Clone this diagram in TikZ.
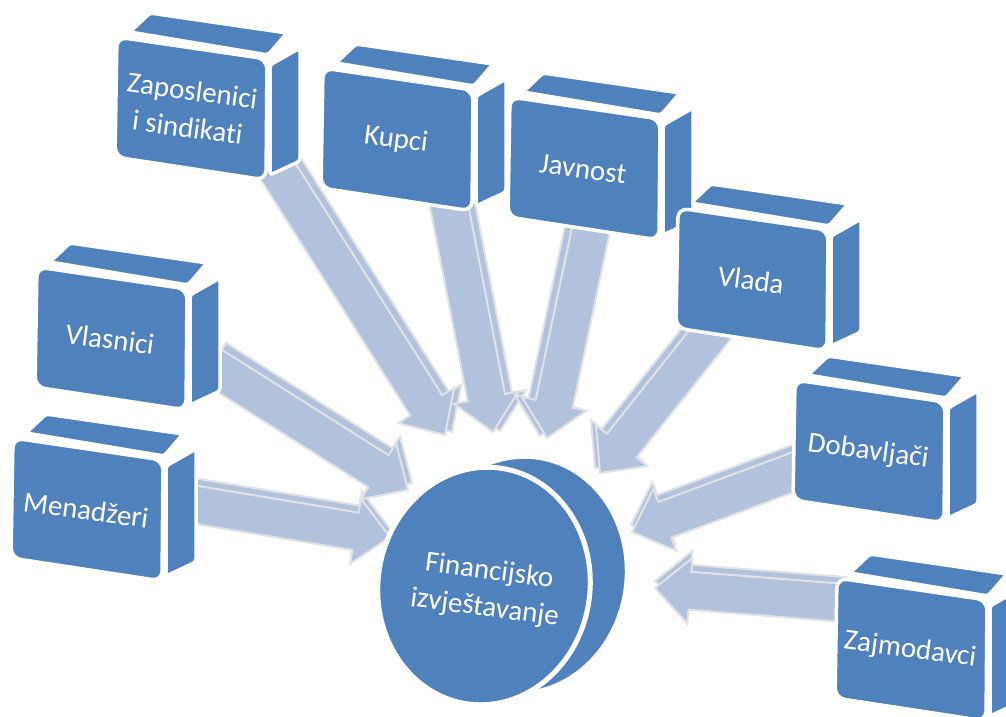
\documentclass[tikz,border=0pt]{standalone}
\usepackage{fontspec}
\setmainfont{Carlito}[Ligatures={NoCommon}]
\usetikzlibrary{calc,shapes.geometric}
\definecolor{boxblue}{HTML}{4F81BD}
\definecolor{arrowfill}{HTML}{B3C2DC}
\definecolor{arrowline}{HTML}{E0E2E6}
\tikzset{
  face/.style={fill=boxblue, draw=white, line width=3.5pt, line join=round},
  boxtext/.style={text=white, font=\fontsize{29}{37}\selectfont, align=center, rotate=-7.5, inner sep=0pt},
  arrowbody/.style={fill=arrowfill, draw=arrowline, line width=2pt, line join=miter},
  disc/.style={ellipse, fill=boxblue, draw=white, line width=5pt, minimum width=212pt, minimum height=238pt, rotate=-8},
}
\newcommand{\stakebox}[4]{%
  \begin{scope}[shift={(#2,#3)}]
    \path[face, rounded corners=3pt] (13,-5) -- (33,-24) -- (170,-4) -- (151,18) -- cycle;
    \path[face, rounded corners=3pt] (153,28) -- (183,11) -- (183,124) -- (153,138) -- cycle;
    \path[face, rounded corners=10pt] (0,0) -- (150,22) -- (149,143) -- (-2,120) -- cycle;
    \node[boxtext] (#1) at (73,72) {#4};
  \end{scope}}
\newcommand{\arrowshape}[2]{%
  \coordinate (#2hb) at ($(#2)!35pt!(#1)$);
  \path[arrowbody] ($(#1)!19pt!90:(#2)$) -- ($(#2hb)!19pt!-90:(#1)$) -- ($(#2hb)!33pt!-90:(#1)$) -- (#2) -- ($(#2hb)!33pt!90:(#1)$) -- ($(#2hb)!19pt!90:(#1)$) -- ($(#1)!19pt!-90:(#2)$) -- cycle;}
\newcommand{\flowarrow}[3]{%
  \coordinate (#1s) at ($(#1)+#3$);
  \coordinate (#2s) at ($(#2)+#3$);
  \arrowshape{#1s}{#2s}
  \arrowshape{#1}{#2}}
\begin{document}
\begin{tikzpicture}[x=1pt,y=-1pt]
\useasboundingbox (0,0) rectangle (1006,716);
\clip (0,0) rectangle (1006,716);
% arrow end points
\coordinate (aMen) at (185,503); \coordinate (bMen) at (390,537);
\coordinate (aVla) at (212,366); \coordinate (bVla) at (408,490);
\coordinate (aZap) at (274,165); \coordinate (bZap) at (445,435);
\coordinate (aKup) at (447,195); \coordinate (bKup) at (493,432);
\coordinate (aJav) at (593,220); \coordinate (bJav) at (547,438);
\coordinate (aVld) at (720,322); \coordinate (bVld) at (600,473);
\coordinate (aDob) at (810,466); \coordinate (bDob) at (632,532);
\coordinate (aZaj) at (845,603); \coordinate (bZaj) at (655,588);
% arrows
\flowarrow{aMen}{bMen}{(1,-7)}
\flowarrow{aVla}{bVla}{(4,-7)}
\flowarrow{aZap}{bZap}{(7,-3)}
\flowarrow{aKup}{bKup}{(7,-1)}
\flowarrow{aJav}{bJav}{(-7,-2)}
\flowarrow{aVld}{bVld}{(-5,-5)}
\flowarrow{aDob}{bDob}{(-1,-7)}
\flowarrow{aZaj}{bZaj}{(0,-7)}
% boxes
\stakebox{zap}{117}{37}{Zaposlenici\\i sindikati}
\stakebox{kup}{323}{68}{Kupci}
\stakebox{jav}{510}{97}{Javnost}
\stakebox{vld}{678}{208}{Vlada}
\stakebox{dob}{795}{380}{Dobavljači}
\stakebox{zaj}{837}{578}{Zajmodavci}
\stakebox{vla}{37}{267}{Vlasnici}
\stakebox{men}{13}{438}{Menadžeri}
% central disc
\node[disc] (finback) at (521,575) {};
\node[disc] (fin) at (484,586) {};
\node[boxtext] (fintext) at (487,590) {Financijsko\\izvještavanje};
\end{tikzpicture}
\end{document}
